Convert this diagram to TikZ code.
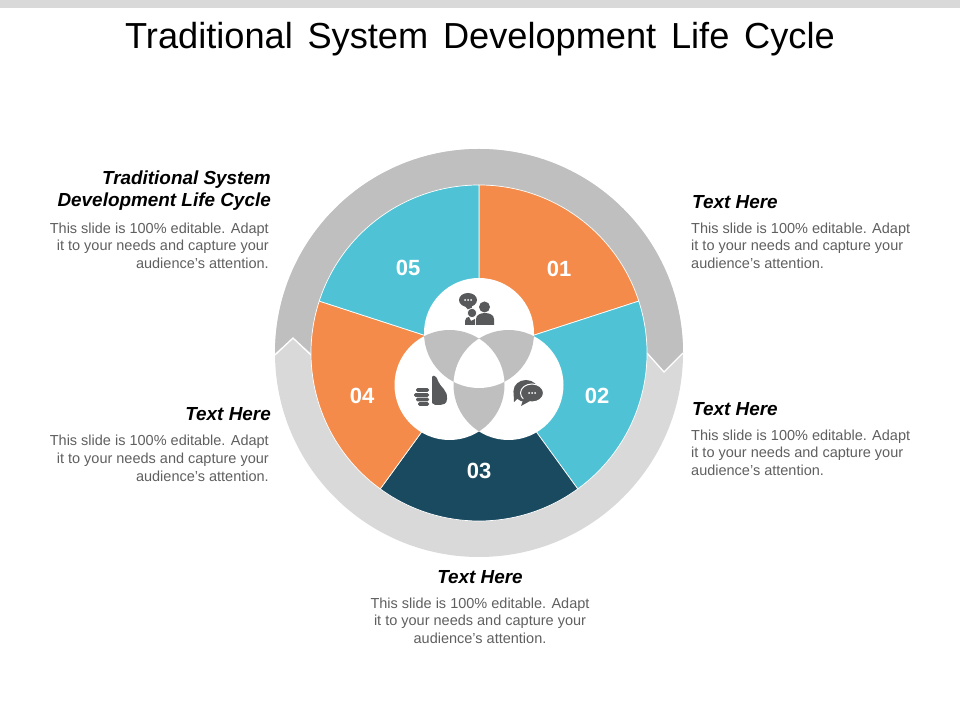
\documentclass[tikz,border=0pt]{standalone}
\usepackage{fontspec}
\setmainfont{Liberation Sans}
\usetikzlibrary{positioning}
\definecolor{ringdark}{HTML}{BFBFBF}
\definecolor{ringlight}{HTML}{D9D9D9}
\definecolor{orangesec}{HTML}{F58B4A}
\definecolor{cyansec}{HTML}{4FC3D5}
\definecolor{navysec}{HTML}{1A4A60}
\definecolor{bodygrey}{HTML}{5F5F5F}
\definecolor{icongrey}{HTML}{58595B}
\begin{document}
\begin{tikzpicture}[x=1pt,y=1pt]
\tikzset{head/.style = {inner sep=0pt, font=\fontsize{18.9}{22}\selectfont\bfseries\itshape, text=black},
  blurb/.style = {inner sep=0pt, font=\fontsize{14.5}{17.7}\selectfont, text=bodygrey},
  seclabel/.style = {inner sep=0pt, font=\fontsize{22}{22}\selectfont\bfseries, text=white},
  lens/.style = {fill=ringdark},
  icon/.style = {fill=icongrey}}
\def\outerrad{204}
\def\innerrad{168}
\def\hubrad{55}

\useasboundingbox (0,0) rectangle (960,720);
\fill[ringlight] (0,712) rectangle (960,720);

\node[inner sep=0pt, font=\fontsize{36.2}{40}\selectfont] (title) at (480,681) {Traditional\hspace{.13em} System\hspace{.13em} Development\hspace{.13em} Life\hspace{.13em} Cycle};

\coordinate (C) at (479,367);

% ring
\fill[ringlight, even odd rule] (C) circle (\outerrad) (C) circle (\innerrad);
\fill[ringdark] (275,367) arc (180:0:\outerrad) -- (664,348) -- (647,367) arc (0:180:\innerrad) -- (293,382) -- cycle;
\draw[white, line width=1.3pt] (275,365) -- (293,382) -- (311,365);
\draw[white, line width=1.3pt] (683,367) -- (664,348) -- (647,367);

% sectors
\foreach \a/\col in {18/orangesec, -54/cyansec, -126/navysec, -198/orangesec, -270/cyansec}
  \filldraw[fill=\col, draw=white, line width=.7pt] (C) -- +(\a:\innerrad) arc (\a:\a+72:\innerrad) -- cycle;

\node[seclabel] (n1) at (559,451) {01};
\node[seclabel] (n2) at (597,324) {02};
\node[seclabel] (n3) at (479,249) {03};
\node[seclabel] (n4) at (362,324) {04};
\node[seclabel] (n5) at (408,452) {05};

% hub
\coordinate (T) at (479,387);
\coordinate (L) at (449.5,335);
\coordinate (R) at (508.5,335);
\fill[white] (T) circle (\hubrad) (L) circle (\hubrad) (R) circle (\hubrad);
\begin{scope}
\clip (T) circle (\hubrad);
\fill[lens] (L) circle (\hubrad);
\fill[lens] (R) circle (\hubrad);
\end{scope}
\begin{scope}
\clip (L) circle (\hubrad);
\fill[lens] (R) circle (\hubrad);
\end{scope}
\begin{scope}
\clip (T) circle (\hubrad);
\clip (L) circle (\hubrad);
\fill[white] (R) circle (\hubrad);
\end{scope}

% people
\fill[icon] (468,420) ellipse (9 and 7);
\fill[icon] (464,415) -- (471,407) -- (472,414) -- cycle;
\foreach \x in {465,468,471} \fill[white] (\x,420) circle (1);
\fill[icon] (484.5,413) circle (5.5);
\fill[icon] (476,395) -- (476,401) .. controls (476,409) and (494,409) .. (494,401) -- (494,395) -- cycle;
\fill[icon, draw=white, line width=.8pt] (472,407) circle (4.8);
\fill[icon] (465,395) -- (465,399) .. controls (465,402) and (467,403) .. (469,403) -- (471,399) -- (475,401) -- (475,395) -- cycle;

% thumb
\foreach \y/\w in {330/13, 325/15, 320.5/13, 316/11}
  \fill[icon, rounded corners=1.5pt] (429,\y-1.9) rectangle (429-\w,\y+1.9);
\fill[icon] (432,317) -- (432,340) .. controls (431,346) and (436,346) .. (438,339) .. controls (440,333) and (448,330) .. (447,321) .. controls (447,316) and (443,315) .. (440,315) .. controls (436,315) and (433,315) .. (432,317) -- cycle;

% chat
\fill[icon] (526,329) ellipse (12.5 and 11);
\fill[icon] (513.5,329) -- (514,318) -- (520,324) -- cycle;
\fill[icon, draw=white, line width=1pt] (532,327) ellipse (11.5 and 9);
\fill[icon] (524,323) -- (521,314) -- (530,319) -- cycle;
\foreach \x in {529,532,535} \fill[white] (\x,327) circle (1);

% texts
\node[head, align=right, anchor=north east] (h5) at (271,549) {Traditional System\\Development Life Cycle};
\node[blurb, align=right, below=11.5pt of h5.south east, anchor=north east, xshift=-2pt] (b5) {This slide is 100\% editable. Adapt\\it to your needs and capture your\\audience's attention.};
\node[head, anchor=north west] (h1) at (692,525) {Text Here};
\node[blurb, align=left, below=14pt of h1.south west, anchor=north west, xshift=-1pt] (b1) {This slide is 100\% editable. Adapt\\it to your needs and capture your\\audience's attention.};
\node[head, anchor=north west] (h2) at (692,318) {Text Here};
\node[blurb, align=left, below=14pt of h2.south west, anchor=north west, xshift=-1pt] (b2) {This slide is 100\% editable. Adapt\\it to your needs and capture your\\audience's attention.};
\node[head, anchor=north east] (h4) at (271,313) {Text Here};
\node[blurb, align=right, below=14.5pt of h4.south east, anchor=north east, xshift=-2pt] (b4) {This slide is 100\% editable. Adapt\\it to your needs and capture your\\audience's attention.};
\node[head, anchor=north] (h3) at (480,150) {Text Here};
\node[blurb, align=center, below=14pt of h3.south, anchor=north] (b3) {This slide is 100\% editable. Adapt\\it to your needs and capture your\\audience's attention.};
\end{tikzpicture}
\end{document}
